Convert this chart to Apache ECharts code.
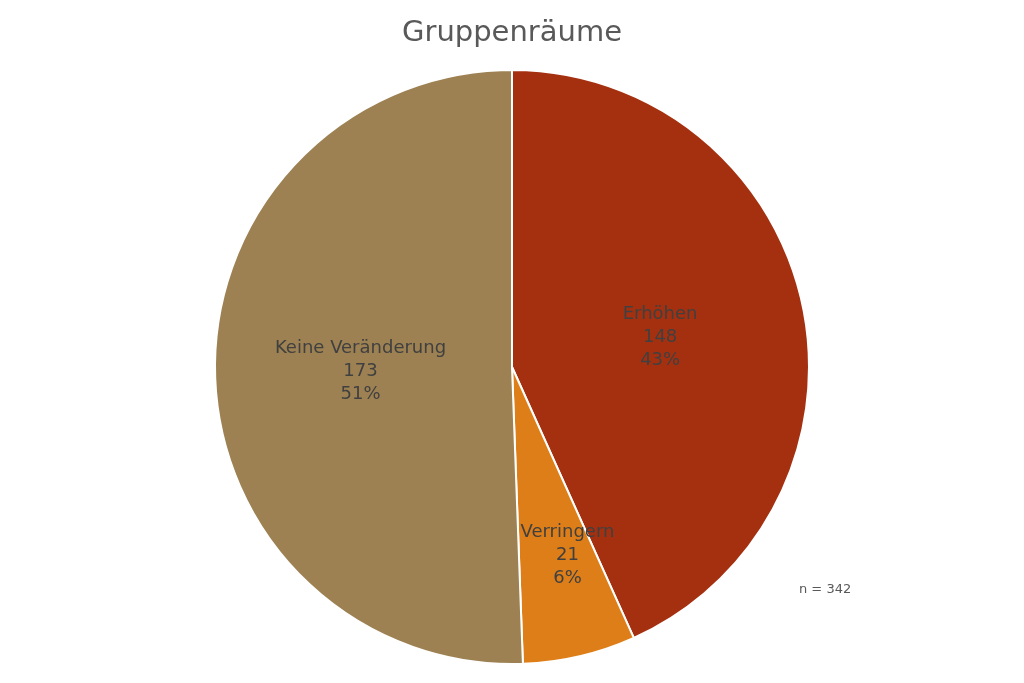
<!DOCTYPE html>
<html>
<head>
<meta charset="utf-8">
<script src="https://cdn.jsdelivr.net/npm/echarts@6/dist/echarts.min.js"></script>
<style>
  html, body { margin: 0; padding: 0; background: #fff; }
  #container { width: 1024px; height: 683px; }
</style>
</head>
<body>
<div id="container"></div>
<script>
var categories = ['Erhöhen', 'Verringern', 'Keine Veränderung'];
var counts = [148, 21, 173];
var colors = ['#A5300F', '#DE7E18', '#9D8152'];
var total = 342;

var chartDom = document.getElementById('container');
var myChart = echarts.init(chartDom);
var fontFamily = '"DejaVu Sans", sans-serif';

var option = {
    title: {
        text: 'Gruppenräume',
        left: 'center',
        top: 14,
        textStyle: {
            fontSize: 29,
            fontFamily: fontFamily,
            fontWeight: 'normal',
            color: '#595959'
        }
    },
    graphic: [{
        type: 'text',
        left: 799,
        top: 583,
        style: {
            text: 'n = ' + total,
            font: '13px ' + fontFamily,
            fill: '#595959'
        }
    }],
    series: [{
        type: 'pie',
        center: [512, 367],
        radius: 297,
        startAngle: 90,
        clockwise: true,
        animation: false,
        itemStyle: {
            borderColor: '#fff',
            borderWidth: 2
        },
        label: {
            show: true,
            position: 'inside',
            formatter: function (p) {
                return p.name + '\n' + p.value + '\n' + Math.round(p.value / total * 100) + '%';
            },
            fontSize: 18,
            lineHeight: 23,
            fontFamily: fontFamily,
            color: '#404040',
            align: 'center'
        },
        labelLayout: function (params) {
            if (params.dataIndex === 1) {
                return { dx: 21, dy: 41 };
            }
            return { dy: 2 };
        },
        data: categories.map(function (name, i) {
            return { name: name, value: counts[i], itemStyle: { color: colors[i] } };
        })
    }]
};

myChart.setOption(option);
</script>
</body>
</html>
